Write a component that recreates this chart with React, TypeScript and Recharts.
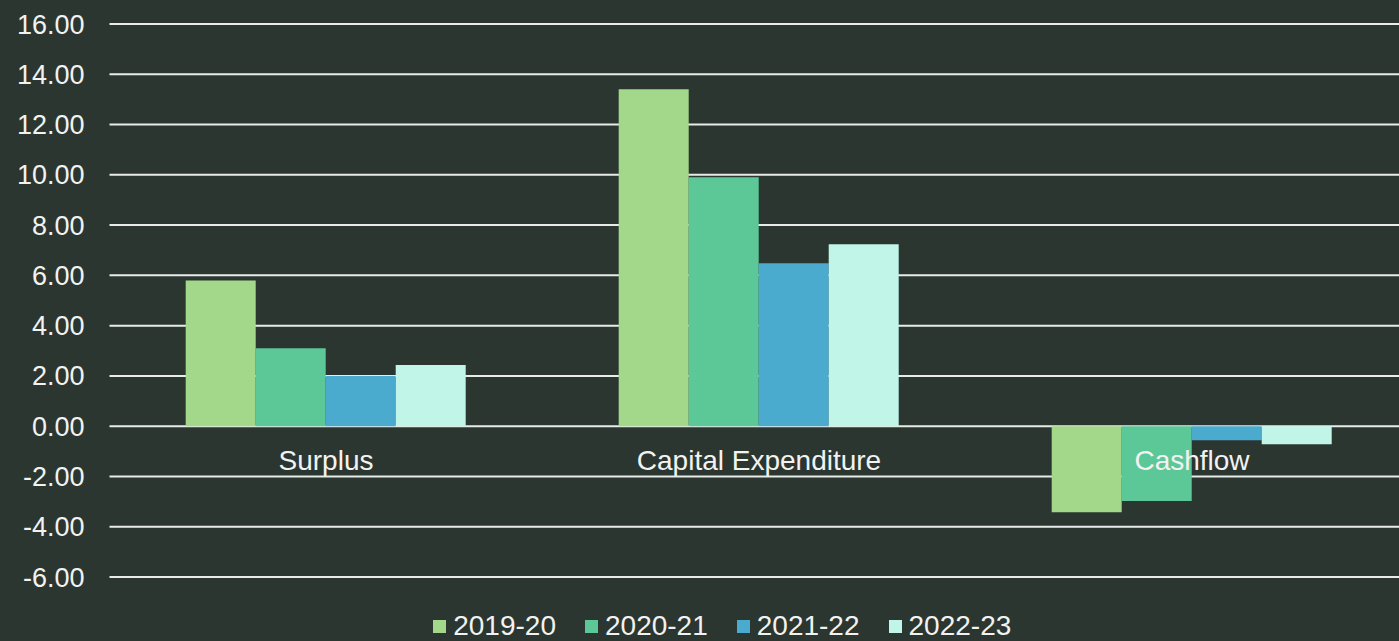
import React from "react";
import { BarChart, Bar, XAxis, YAxis, CartesianGrid, Legend } from "recharts";

const categories = ["Surplus", "Capital Expenditure", "Cashflow"];
const series2019_20 = [5.8, 13.4, -3.42];
const series2020_21 = [3.1, 9.9, -2.98];
const series2021_22 = [2.0, 6.48, -0.56];
const series2022_23 = [2.43, 7.24, -0.72];
const seriesNames = ["2019-20", "2020-21", "2021-22", "2022-23"];
const seriesColors = ["#a3d88a", "#5cc898", "#4aabcf", "#c0f5e8"];
const yTicks = [-6, -4, -2, 0, 2, 4, 6, 8, 10, 12, 14, 16];

const data = categories.map((c, i) => ({
  name: c,
  "2019-20": series2019_20[i],
  "2020-21": series2020_21[i],
  "2021-22": series2021_22[i],
  "2022-23": series2022_23[i],
}));

const FONT = '"Liberation Sans", Arial, sans-serif';
const BG = "#2b3630";

const CategoryTick = (props: any) => {
  const { x, y, payload } = props;
  return (
    <text
      x={x}
      y={y - 117}
      dy="0.36em"
      textAnchor="middle"
      fill="#f2f2f2"
      fontSize={28}
      fontFamily={FONT}
    >
      {payload.value}
    </text>
  );
};

const LegendContent = () => (
  <div
    style={{
      display: "flex",
      justifyContent: "center",
      alignItems: "center",
      height: 30,
      paddingLeft: 36,
      fontFamily: FONT,
      fontSize: 28,
      color: "#f2f2f2",
    }}
  >
    {seriesNames.map((n, i) => (
      <div key={n} style={{ display: "flex", alignItems: "center", marginRight: i < 3 ? 29 : 0 }}>
        <div style={{ width: 13, height: 13, background: seriesColors[i], marginRight: 7 }} />
        <span>{n}</span>
      </div>
    ))}
  </div>
);

export default function App() {
  return (
    <div style={{ position: "absolute", left: 0, top: 0, width: 1420, height: 641, background: BG, overflow: "hidden" }}>
      <BarChart
        width={1420}
        height={641}
        data={data}
        margin={{ top: 24, right: 11.5, left: 0, bottom: 0 }}
        barGap={0}
        barCategoryGap="17.6%"
      >
        <CartesianGrid horizontal vertical={false} stroke="#e8ece8" strokeWidth={2} strokeOpacity={1} />
        <YAxis
          domain={[-6, 16]}
          ticks={yTicks}
          width={109.5}
          axisLine={false}
          tickLine={false}
          tickSize={0}
          tickMargin={25}
          interval={0}
          tickFormatter={(v: number) => v.toFixed(2)}
          tick={{ fill: "#f2f2f2", fontSize: 27, fontFamily: FONT }}
        />
        <XAxis
          dataKey="name"
          axisLine={false}
          tickLine={false}
          tickSize={0}
          tickMargin={0}
          height={34}
          interval={0}
          tick={<CategoryTick />}
        />
        <Legend verticalAlign="bottom" height={30} content={<LegendContent />} />
        {seriesNames.map((n, i) => (
          <Bar key={n} dataKey={n} fill={seriesColors[i]} isAnimationActive={false} />
        ))}
      </BarChart>
    </div>
  );
}
